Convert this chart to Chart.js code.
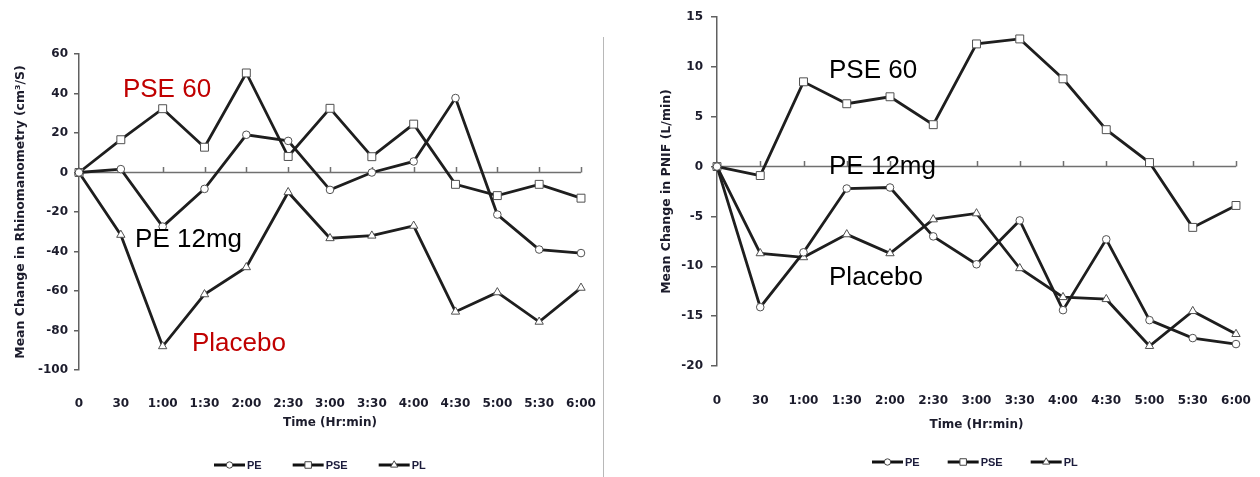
<!DOCTYPE html>
<html>
<head>
<meta charset="utf-8">
<script src="https://cdn.jsdelivr.net/npm/chart.js@4"></script>
<style>
  html, body { margin: 0; padding: 0; background: #fff; }
  body { width: 1260px; height: 477px; position: relative; overflow: hidden; }
  #c1 { position: absolute; left: 0; top: 0; }
  #c2 { position: absolute; left: 610px; top: 0; }
  #sep { position: absolute; left: 603px; top: 37px; width: 1px; height: 440px; background: #b8b8b8; }
</style>
</head>
<body>
<canvas id="c1" width="603" height="477"></canvas>
<div id="sep"></div>
<canvas id="c2" width="650" height="477"></canvas>
<script>
// ---- data ----
const timeLabels = ['0', '30', '1:00', '1:30', '2:00', '2:30', '3:00', '3:30', '4:00', '4:30', '5:00', '5:30', '6:00'];
const seriesNames = ['PE', 'PSE', 'PL'];

const rhinoPE  = [0, 1.7, -27.4, -8.3, 19.1, 16.0, -8.8, 0.0, 5.6, 37.7, -21.3, -39.0, -40.8];
const rhinoPSE = [0, 16.6, 32.3, 12.8, 50.4, 8.1, 32.5, 8.0, 24.5, -6.0, -11.7, -6.0, -13.0];
const rhinoPL  = [0, -31.6, -88.0, -61.7, -48.0, -10.0, -33.3, -32.0, -27.0, -70.5, -60.7, -75.6, -58.4];

const pnifPE  = [0, -14.1, -8.6, -2.2, -2.1, -7.0, -9.8, -5.4, -14.4, -7.3, -15.4, -17.2, -17.8];
const pnifPSE = [0, -0.9, 8.5, 6.3, 7.0, 4.2, 12.3, 12.8, 8.8, 3.7, 0.4, -6.1, -3.9];
const pnifPL  = [0, -8.7, -9.1, -6.8, -8.7, -5.3, -4.7, -10.2, -13.1, -13.3, -18.0, -14.5, -16.8];

const rhinoTicks = { min: -100, max: 60, step: 20 };
const pnifTicks  = { min: -20, max: 15, step: 5 };

const rhinoTitle = 'Mean Change in Rhinomanometry (cm\u00B3/S)';
const pnifTitle  = 'Mean Change in PNIF (L/min)';
const xTitle = 'Time (Hr:min)';

// annotation labels: [text, category position, value, colour]
const rhinoNotes = [['PSE 60', 1.05, 42.6, '#c00000'], ['PE 12mg', 1.34, -33.5, '#000000'], ['Placebo', 2.70, -86.3, '#c00000']];
const pnifNotes  = [['PSE 60', 2.59, 9.7, '#000000'], ['PE 12mg', 2.59, 0.05, '#000000'], ['Placebo', 2.59, -11.1, '#000000']];

// ---- styling ----
const tickFont = { family: "'DejaVu Sans', sans-serif", size: 12, weight: 'bold' };
const yTitleFont = { family: "'DejaVu Sans', sans-serif", size: 12.5, weight: 'bold' };
const tickColor = '#1c1c2c';
const lineColor = '#1e1e1e';
const markerStyles = ['circle', 'rect', 'triangle'];
const markerRadius = [3.8, 5.6, 4.8];
const legendRadius = [3.2, 4.6, 4.2];

function drawMarker(ctx, style, r, x, y) {
  ctx.beginPath();
  if (style === 'circle') {
    ctx.arc(x, y, r, 0, Math.PI * 2);
  } else if (style === 'rect') {
    const s = Math.SQRT1_2 * r;
    ctx.rect(x - s, y - s, 2 * s, 2 * s);
  } else {
    for (let k = 0; k < 3; k++) {
      const a = k * 2 * Math.PI / 3;
      const px = x + Math.sin(a) * r, py = y - Math.cos(a) * r;
      if (k === 0) ctx.moveTo(px, py); else ctx.lineTo(px, py);
    }
    ctx.closePath();
  }
  ctx.fill();
  ctx.stroke();
}

const zeroLine = {
  id: 'zeroLine',
  beforeDatasetsDraw(chart) {
    const { ctx, chartArea, scales: { x, y } } = chart;
    const y0 = y.getPixelForValue(0);
    ctx.save();
    ctx.strokeStyle = '#707070';
    ctx.lineWidth = 1.5;
    ctx.beginPath();
    ctx.moveTo(chartArea.left, y0);
    ctx.lineTo(chartArea.right, y0);
    for (let i = 1; i < chart.data.labels.length; i++) {
      const px = Math.round(x.getPixelForValue(i)) + 0.5;
      ctx.moveTo(px, y0);
      ctx.lineTo(px, y0 - 5.5);
    }
    ctx.stroke();
    ctx.restore();
  }
};

const notes = {
  id: 'notes',
  afterDatasetsDraw(chart, args, opts) {
    const { ctx, scales: { x, y } } = chart;
    ctx.save();
    ctx.font = "26px 'Liberation Sans', Arial, sans-serif";
    ctx.textAlign = 'left';
    ctx.textBaseline = 'middle';
    (opts.items || []).forEach(([t, xi, v, c]) => {
      ctx.fillStyle = c;
      ctx.fillText(t, x.getPixelForValue(xi), y.getPixelForValue(v) + 1);
    });
    ctx.restore();
  }
};

const miniLegend = {
  id: 'miniLegend',
  afterDraw(chart, args, opts) {
    const { ctx, chartArea } = chart;
    let x = chartArea.left + opts.startX;
    const y = opts.y;
    ctx.save();
    ctx.font = "bold 11px 'Liberation Sans', Arial, sans-serif";
    ctx.textBaseline = 'middle';
    ctx.textAlign = 'left';
    chart.data.datasets.forEach((ds, i) => {
      ctx.strokeStyle = '#111';
      ctx.lineWidth = 3;
      ctx.beginPath();
      ctx.moveTo(x, y);
      ctx.lineTo(x + 31, y);
      ctx.stroke();
      ctx.fillStyle = '#fff';
      ctx.strokeStyle = '#444';
      ctx.lineWidth = 1;
      drawMarker(ctx, markerStyles[i], legendRadius[i], x + 15.5, y);
      ctx.fillStyle = '#1c1c3c';
      ctx.fillText(ds.label, x + 33, y + 0.5);
      x += 33 + ctx.measureText(ds.label).width + opts.gap;
    });
    ctx.restore();
  }
};

function makeDataset(i, values) {
  return {
    label: seriesNames[i],
    data: values,
    borderColor: lineColor,
    borderWidth: 2.8,
    tension: 0,
    fill: false,
    clip: false,
    pointStyle: markerStyles[i],
    pointRadius: markerRadius[i],
    pointBackgroundColor: '#ffffff',
    pointBorderColor: '#505050',
    pointBorderWidth: 1
  };
}

function buildChart(id, cfg) {
  return new Chart(document.getElementById(id), {
    type: 'line',
    data: {
      labels: timeLabels,
      datasets: [makeDataset(0, cfg.pe), makeDataset(1, cfg.pse), makeDataset(2, cfg.pl)]
    },
    options: {
      responsive: false,
      animation: false,
      devicePixelRatio: 1,
      layout: { padding: { top: cfg.padTop, right: cfg.padRight, left: 0, bottom: 0 } },
      plugins: {
        legend: { display: false },
        tooltip: { enabled: false },
        notes: { items: cfg.notes },
        miniLegend: { startX: cfg.legendX, y: cfg.legendY, gap: cfg.legendGap }
      },
      scales: {
        x: {
          type: 'category',
          offset: false,
          grid: { display: false },
          border: { display: false },
          ticks: { font: tickFont, color: tickColor, padding: cfg.xTickPad, maxRotation: 0, autoSkip: false },
          title: { display: true, text: xTitle, font: tickFont, color: tickColor, padding: { top: 0, bottom: cfg.xTitlePad } },
          afterFit(s) { s.height = cfg.xHeight; s.paddingLeft = 0; s.paddingRight = 0; }
        },
        y: {
          min: cfg.ticks.min,
          max: cfg.ticks.max,
          ticks: { stepSize: cfg.ticks.step, font: tickFont, color: tickColor, padding: cfg.yTickPad },
          grid: { drawOnChartArea: false, drawTicks: true, tickLength: cfg.yTickLen, color: '#606060', lineWidth: 1.5 },
          border: { color: '#606060', width: 1.5 },
          title: { display: true, text: cfg.yTitle, font: yTitleFont, color: tickColor, padding: { top: cfg.yTitlePad, bottom: 0 } },
          afterFit(s) { s.width = cfg.yWidth; s.paddingTop = 0; s.paddingBottom = 0; }
        }
      }
    },
    plugins: [zeroLine, notes, miniLegend]
  });
}

buildChart('c1', {
  pe: rhinoPE, pse: rhinoPSE, pl: rhinoPL, ticks: rhinoTicks, yTitle: rhinoTitle, notes: rhinoNotes,
  padTop: 54, padRight: 22, yWidth: 79, xHeight: 107,
  xTickPad: 19, xTitlePad: 46.8, yTickPad: 6, yTickLen: 5, yTitlePad: 13,
  legendX: 135, legendY: 465, legendGap: 31
});

buildChart('c2', {
  pe: pnifPE, pse: pnifPSE, pl: pnifPL, ticks: pnifTicks, yTitle: pnifTitle, notes: pnifNotes,
  padTop: 17, padRight: 24, yWidth: 107, xHeight: 111,
  xTickPad: 20, xTitlePad: 44.8, yTickPad: 8, yTickLen: 6, yTitlePad: 49,
  legendX: 155, legendY: 462, legendGap: 28
});
</script>
</body>
</html>
